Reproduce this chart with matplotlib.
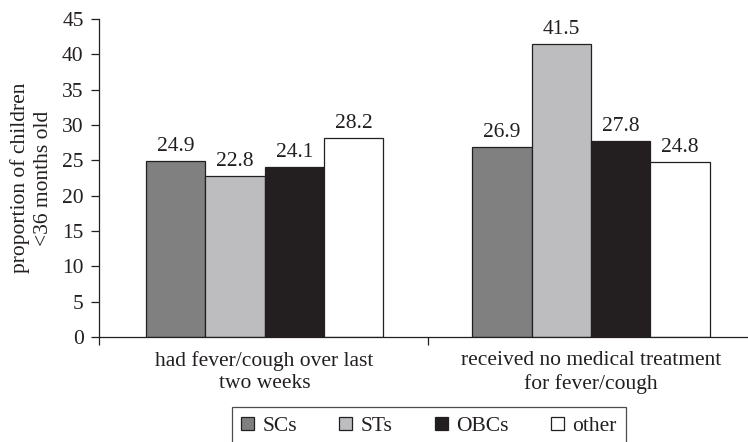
import matplotlib
matplotlib.use("Agg")
import matplotlib.pyplot as plt
import numpy as np
from matplotlib.patches import Patch

plt.rcParams['font.family'] = ['Liberation Serif', 'DejaVu Serif']

categories = ["had fever/cough over last\ntwo weeks", "received no medical treatment\nfor fever/cough"]
series_names = ["SCs", "STs", "OBCs", "other"]
SCs = [24.9, 26.9]
STs = [22.8, 41.5]
OBCs = [24.1, 27.8]
other = [28.2, 24.8]
values = [SCs, STs, OBCs, other]
colors = ["#808080", "#bdbdbf", "#231f20", "#ffffff"]
yticks = [0, 5, 10, 15, 20, 25, 30, 35, 40, 45]

ink = "#231f20"
fs = 15.5

fig = plt.figure(figsize=(7.48, 4.42), dpi=100)
ax = fig.add_axes([99/748, 1-337/442, 1-99/748, (337-19)/442])

x = np.arange(len(categories))
w = 0.182
for i, (name, vals, c) in enumerate(zip(series_names, values, colors)):
    pos = x + (i - 1.5) * w
    ax.bar(pos, vals, width=w, color=c, edgecolor=ink, linewidth=0.9, label=name)
    for p, v in zip(pos, vals):
        ax.annotate(f"{v}", (p, v), xytext=(0, 7), textcoords="offset points",
                    ha="center", va="baseline", fontsize=fs, color=ink)

xl = -(264.5 - 99) / 326.5
xr = (748 - 264.5) / 326.5
ax.set_xlim(xl, xr)
ax.set_ylim(0, 45)
ax.set_yticks(yticks)
ax.set_yticklabels([str(t) for t in yticks])
ax.set_xticks([xl, 0.5])
ax.set_xticklabels([])
ax.set_xticks(x, minor=True)
ax.set_xticklabels(categories, minor=True, fontsize=fs, color=ink, linespacing=1.25)
ax.tick_params(axis='x', which='minor', length=0, pad=10)
ax.tick_params(axis='x', which='major', direction='out', length=6, width=0.9, color=ink)
ax.tick_params(axis='y', direction='out', length=6, width=0.9, pad=5, labelsize=fs, colors=ink)
for s in ["top", "right"]:
    ax.spines[s].set_visible(False)
for s in ["left", "bottom"]:
    ax.spines[s].set_color(ink)
    ax.spines[s].set_linewidth(0.9)

fig.text(31.5/748, 1-178/442, "proportion of children\n<36 months old", rotation=90,
         ha="center", va="center", fontsize=fs, color=ink, linespacing=1.25)

handles = [Patch(facecolor=c, edgecolor=ink, linewidth=0.9, label=n) for n, c in zip(series_names, colors)]
leg = fig.legend(handles=handles, loc="upper center", bbox_to_anchor=(429/748, 1-407/442), ncol=4,
                 frameon=True, fancybox=False, fontsize=fs, handlelength=0.6, handleheight=0.6,
                 handletextpad=0.4, columnspacing=1.95, borderpad=0.45, borderaxespad=0)
leg.get_frame().set_edgecolor(ink)
leg.get_frame().set_linewidth(0.9)
for t in leg.get_texts():
    t.set_color(ink)

fig.savefig("out.png", dpi=100)
